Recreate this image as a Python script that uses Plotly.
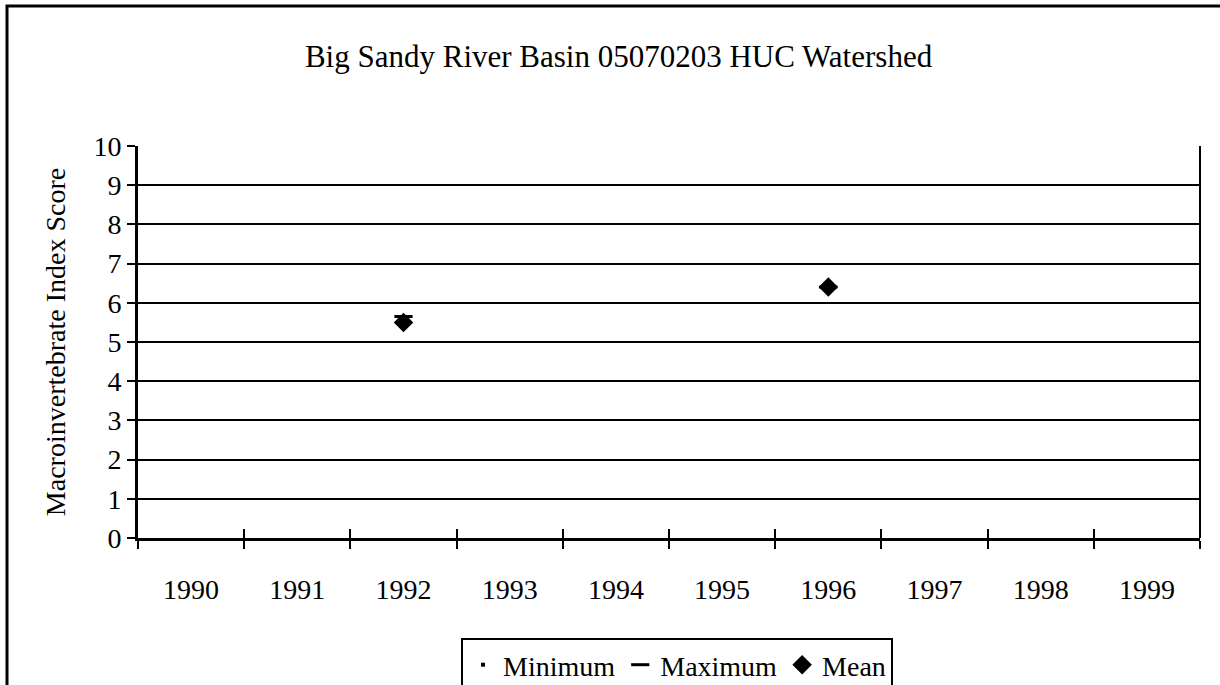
import plotly.graph_objects as go

years = ["1990", "1991", "1992", "1993", "1994", "1995", "1996", "1997", "1998", "1999"]
minimum = [None, None, 5.4, None, None, None, 6.4, None, None, None]
maximum = [None, None, 5.65, None, None, None, 6.4, None, None, None]
mean = [None, None, 5.5, None, None, None, 6.4, None, None, None]

FONT = "Liberation Serif, Times New Roman, serif"

fig = go.Figure()
fig.add_trace(go.Scatter(
    x=years, y=minimum, name="Minimum", mode="markers",
    marker=dict(symbol="square", size=4, color="black"),
))
fig.add_trace(go.Scatter(
    x=years, y=maximum, name="Maximum", mode="markers",
    marker=dict(symbol="line-ew", size=13, color="black",
                line=dict(color="black", width=3)),
))
fig.add_trace(go.Scatter(
    x=years, y=mean, name="Mean", mode="markers",
    marker=dict(symbol="diamond", size=15, color="black"),
))
# invisible trace on the overlay axis so inside ticks are drawn
fig.add_trace(go.Scatter(x=years, y=[None] * len(years), xaxis="x2",
                         showlegend=False, hoverinfo="skip"))

fig.update_layout(
    width=1220, height=685,
    margin=dict(l=138, r=20, t=146, b=147, autoexpand=False),
    paper_bgcolor="white", plot_bgcolor="white",
    font=dict(family=FONT, size=28, color="black"),
    title=dict(text="Big Sandy River Basin 05070203 HUC Watershed",
               x=0.507, xanchor="center", y=1 - 56 / 685, yanchor="middle",
               yref="container", font=dict(family=FONT, size=31)),
    xaxis=dict(
        type="category", categoryorder="array", categoryarray=years,
        range=[-0.5, 9.5], tickson="boundaries",
        ticks="outside", ticklen=8, tickwidth=2, tickcolor="black",
        showline=True, linecolor="black", linewidth=3,
        showgrid=False, zeroline=False, ticklabelstandoff=24,
        tickfont=dict(family=FONT, size=28),
    ),
    xaxis2=dict(
        type="category", categoryorder="array", categoryarray=years,
        range=[-0.5, 9.5], tickson="boundaries", overlaying="x",
        side="bottom", matches="x",
        ticks="inside", ticklen=9, tickwidth=2, tickcolor="black",
        showticklabels=False, showgrid=False, showline=False, zeroline=False,
    ),
    yaxis=dict(
        range=[0, 10], dtick=1, tick0=0,
        ticks="outside", ticklen=8, tickwidth=2, tickcolor="black",
        showline=True, linecolor="black", linewidth=3,
        showgrid=True, gridcolor="black", gridwidth=1.5, zeroline=False,
        tickfont=dict(family=FONT, size=28),
        title=dict(text="Macroinvertebrate Index Score",
                   font=dict(family=FONT, size=28), standoff=20),
    ),
    legend=dict(
        orientation="h", x=(677 - 138) / 1062, xanchor="center",
        y=(538 - 638) / 392, yanchor="top",
        bgcolor="white", bordercolor="black", borderwidth=2,
        font=dict(family=FONT, size=28), itemwidth=30,
    ),
    shapes=[
        # outer chart frame
        dict(type="rect", xref="paper", yref="paper",
             x0=(7 - 138) / 1062, x1=1.2, y0=-0.6, y1=(538 - 6) / 392,
             line=dict(color="black", width=3), layer="below"),
        # right edge of the plot area
        dict(type="line", xref="paper", yref="paper",
             x0=1, x1=1, y0=0, y1=1, line=dict(color="black", width=2)),
    ],
)

fig.write_html("out.html")
